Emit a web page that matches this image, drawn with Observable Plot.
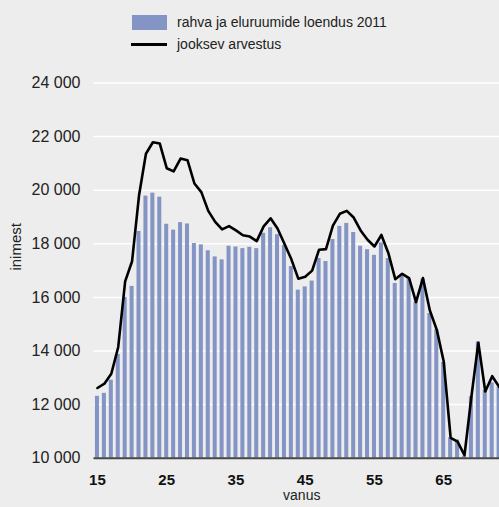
<!DOCTYPE html>
<html>
<head>
<meta charset="utf-8">
<script src="https://cdn.jsdelivr.net/npm/d3@7"></script>
<script src="https://cdn.jsdelivr.net/npm/@observablehq/plot@0.6"></script>
<style>
html, body { margin: 0; padding: 0; overflow: hidden; background: #ecedec; }
body { width: 499px; height: 507px; font-family: "Liberation Sans", Arial, sans-serif; color: #222; }
#legend { position: relative; height: 60px; }
.sw-bar { position: absolute; left: 132px; top: 15px; width: 35px; height: 15px; background: #8494c4; }
.sw-line { position: absolute; left: 131px; top: 43px; width: 36px; height: 3px; background: #000; }
.lg-text { position: absolute; left: 177px; font-size: 14px; line-height: 16px; white-space: nowrap; }
#chart { width: 499px; overflow: hidden; }
#chart svg { display: block; max-width: none !important; height: 447px !important; }
</style>
</head>
<body>
<div id="legend"></div>
<div id="chart"></div>
<script>
const ages = [15,16,17,18,19,20,21,22,23,24,25,26,27,28,29,30,31,32,33,34,35,36,37,38,39,40,41,42,43,44,45,46,47,48,49,50,51,52,53,54,55,56,57,58,59,60,61,62,63,64,65,66,67,68,69,70,71,72,73,74];
const census = [12310,12420,12910,13870,16000,16410,18460,19780,19890,19740,18730,18510,18790,18740,18010,17960,17740,17510,17400,17910,17880,17820,17870,17820,18390,18600,18340,17940,17150,16270,16390,16610,17450,17340,18160,18650,18760,18420,17910,17780,17570,18030,17450,16520,16800,16690,15830,16680,15400,14790,13570,10760,10680,10070,12300,14340,12530,12810,12650,12400];
const running = [12620,12780,13150,14150,16600,17350,19800,21360,21790,21740,20820,20700,21180,21120,20250,19930,19230,18820,18540,18660,18500,18320,18270,18100,18650,18950,18570,18000,17420,16700,16770,17000,17780,17800,18680,19120,19230,18980,18500,18150,17900,18330,17660,16680,16880,16720,15820,16720,15510,14790,13610,10760,10620,10110,12300,14310,12490,13060,12660,12450];
const yTicks = [10000,12000,14000,16000,18000,20000,22000,24000];
const xTicks = [15,25,35,45,55,65];
const seriesNames = ["rahva ja eluruumide loendus 2011", "jooksev arvestus"];
const xLabel = "vanus";
const yLabel = "inimest";

const barColor = "#8494c4";

// Legend (HTML, above the SVG)
const legend = document.getElementById("legend");
legend.innerHTML =
  `<div class="sw-bar"></div><div class="lg-text" style="top:14px">${seriesNames[0]}</div>` +
  `<div class="sw-line"></div><div class="lg-text" style="top:36px">${seriesNames[1]}</div>`;

const data = ages.map((a, i) => ({age: a, census: census[i], running: running[i]}));
const fmt = d => d3.format(",")(d).replace(",", " ");

const plot = Plot.plot({
  width: 510,
  height: 447,
  marginLeft: 93.5,
  marginRight: 1,
  marginTop: 22.5,
  marginBottom: 49.3,
  style: {background: "transparent", fontFamily: "'Liberation Sans', Arial, sans-serif", fontSize: "16px", color: "#222", maxWidth: "none"},
  x: {type: "band", domain: ages, padding: 0, round: false, label: null},
  y: {domain: [yTicks[0], yTicks[yTicks.length - 1]], label: null},
  marks: [
    Plot.gridY(yTicks.slice(1), {stroke: "#ffffff", strokeOpacity: 1, strokeWidth: 1.5}),
    Plot.barY(data, {x: "age", y: "census", fill: barColor, insetLeft: 1.45, insetRight: 1.45, clip: true}),
    Plot.ruleY([yTicks[0]], {stroke: "#474747", strokeWidth: 2}),
    Plot.lineY(data, {x: "age", y: "running", stroke: "#000", strokeWidth: 2.6, strokeLinejoin: "round"}),
    Plot.axisY(yTicks, {tickSize: 0, tickPadding: 13.5, tickFormat: fmt, fontSize: 16, fill: "#222", label: null}),
    Plot.axisX(xTicks, {tickSize: 0, tickPadding: 16, fontSize: 15, fontWeight: "bold", fill: "#111", label: null}),
    Plot.text([xLabel], {frameAnchor: "bottom", dy: 42, fontSize: 14, fill: "#222"}),
    Plot.text([yLabel], {frameAnchor: "left", rotate: -90, dx: -77.5, fontSize: 15, fill: "#222"})
  ]
});
document.getElementById("chart").appendChild(plot);
</script>
</body>
</html>
